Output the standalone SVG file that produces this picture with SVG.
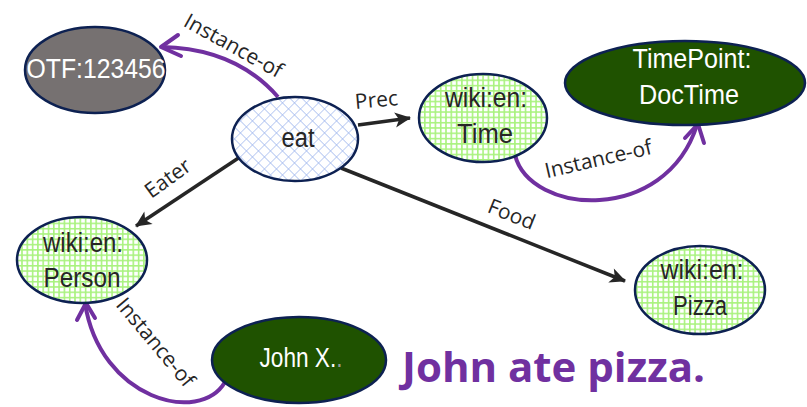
<svg xmlns="http://www.w3.org/2000/svg" width="807" height="407" viewBox="0 0 807 407">
<defs>
<style>
.node{stroke:#0d2152;stroke-width:2.5}
.nt{font-family:"Liberation Sans",Arial,sans-serif;font-size:27px;text-anchor:middle;fill:#262626}
.wt{fill:#ffffff}
.edge{fill:none;stroke:#262626;stroke-width:3.5}
.inst{fill:none;stroke:#7030a0;stroke-width:4}
.lbl{font-family:"Open Sans",sans-serif;font-size:21px;fill:#262626;text-anchor:middle}
</style>
<pattern id="blue" width="8.5" height="8.5" patternUnits="userSpaceOnUse" patternTransform="rotate(45)">
<rect width="8.5" height="8.5" fill="#ffffff"/>
<path d="M0,0H8.5M0,0V8.5" stroke="#9fb7ee" stroke-width="1.3"/>
</pattern>
<pattern id="green" width="5.3" height="5.3" patternUnits="userSpaceOnUse">
<rect width="5.3" height="5.3" fill="#ffffff"/>
<path d="M0,0.8H5.3M0.8,0V5.3" stroke="#a9f27e" stroke-width="1.6"/>
</pattern>
<marker id="ah" markerWidth="10" markerHeight="10" viewBox="0 0 10 10" refX="9" refY="5" orient="auto" markerUnits="userSpaceOnUse" style="overflow:visible">
<path d="M-6,-2.5 L10,5 L-6,12.5 L-2,5 Z" fill="#262626"/>
</marker>
</defs>
<rect width="807" height="407" fill="#ffffff"/>

<g id="connectors">
<line class="edge" x1="358" y1="125" x2="410" y2="118" marker-end="url(#ah)"/>
<line class="edge" x1="240" y1="157" x2="136" y2="226" marker-end="url(#ah)"/>
<line class="edge" x1="341" y1="168" x2="625" y2="281" marker-end="url(#ah)"/>
<path class="inst" d="M278,97 C250,65 210,48 162,47"/>
<path class="inst" d="M178,35 L161,47 L181,56" stroke-linecap="round" stroke-linejoin="round"/>
<path class="inst" d="M515,155 C530,215 665,225 697,125"/>
<path class="inst" d="M685,138 L698,124 L704,143" stroke-linecap="round" stroke-linejoin="round"/>
<path class="inst" d="M225,382 C200,425 100,400 85,303"/>
<path class="inst" d="M77,320 L86,303 L95,318" stroke-linecap="round" stroke-linejoin="round"/>
<text class="lbl" transform="translate(230,52) rotate(29)">Instance-of</text>
<text class="lbl" transform="translate(377,107) rotate(-5)">Prec</text>
<text class="lbl" transform="translate(172,184) rotate(-36)">Eater</text>
<text class="lbl" transform="translate(509,221) rotate(22)">Food</text>
<text class="lbl" transform="translate(600,166) rotate(-13)">Instance-of</text>
<text class="lbl" transform="translate(150,347) rotate(50)">Instance-of</text>
</g>

<g id="otf">
<ellipse class="node" cx="95" cy="70" rx="70" ry="43" fill="#767171"/>
<text class="nt wt" x="96" y="78" textLength="139" lengthAdjust="spacingAndGlyphs">OTF:123456</text>
</g>
<g id="eat">
<ellipse class="node" cx="295" cy="139" rx="63" ry="42" fill="url(#blue)"/>
<text class="nt" x="298" y="147" textLength="33" lengthAdjust="spacingAndGlyphs">eat</text>
</g>
<g id="time">
<ellipse class="node" cx="483" cy="118" rx="64" ry="44" fill="url(#green)"/>
<text class="nt" x="486" y="107" textLength="82" lengthAdjust="spacingAndGlyphs">wiki:en:</text>
<text class="nt" x="485" y="143" textLength="56" lengthAdjust="spacingAndGlyphs">Time</text>
</g>
<g id="timepoint">
<ellipse class="node" cx="685" cy="83" rx="120" ry="42" fill="#1f5200"/>
<text class="nt wt" x="692" y="68" textLength="119" lengthAdjust="spacingAndGlyphs">TimePoint:</text>
<text class="nt wt" x="689" y="104" textLength="100" lengthAdjust="spacingAndGlyphs">DocTime</text>
</g>
<g id="person">
<ellipse class="node" cx="82" cy="260" rx="65" ry="43" fill="url(#green)"/>
<text class="nt" x="83" y="252" textLength="80" lengthAdjust="spacingAndGlyphs">wiki:en:</text>
<text class="nt" x="82" y="287" textLength="77" lengthAdjust="spacingAndGlyphs">Person</text>
</g>
<g id="johnx">
<ellipse class="node" cx="299" cy="360" rx="87" ry="43" fill="#1f5200"/>
<text class="nt wt" x="301" y="367" textLength="83" lengthAdjust="spacingAndGlyphs">John X.<tspan fill="#999999">.</tspan></text>
</g>
<g id="pizza">
<ellipse class="node" cx="700" cy="290" rx="65" ry="44" fill="url(#green)"/>
<text class="nt" x="702" y="279" textLength="83" lengthAdjust="spacingAndGlyphs">wiki:en:</text>
<text class="nt" x="700" y="315" textLength="54" lengthAdjust="spacingAndGlyphs">Pizza</text>
</g>
<text x="402" y="382" font-family="'Open Sans',sans-serif" font-weight="bold" font-size="42" fill="#7030a0" textLength="303" lengthAdjust="spacingAndGlyphs">John ate pizza.</text>
</svg>
